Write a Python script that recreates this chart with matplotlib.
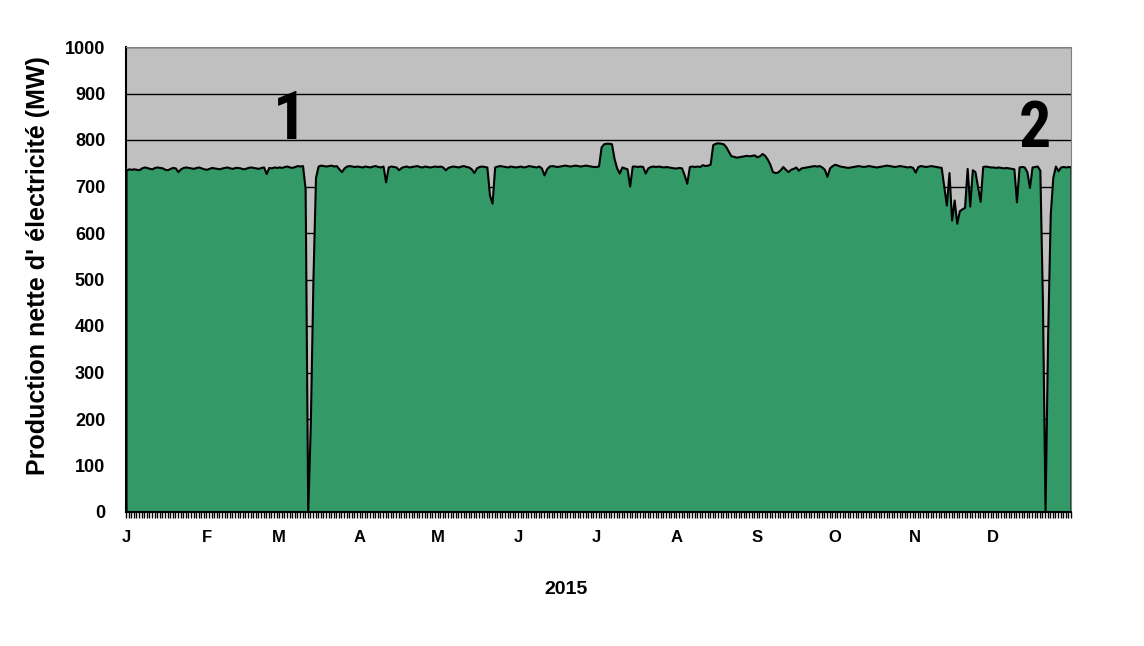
import matplotlib
matplotlib.use('Agg')
import matplotlib.pyplot as plt
from matplotlib import font_manager
import numpy as np

plt.rcParams['font.family'] = ['Liberation Sans', 'DejaVu Sans']
plt.rcParams['font.weight'] = 'bold'

# daily net production (MW), 2015, one list per month
jan = [735, 738, 737, 738, 737, 736, 740, 742, 741, 739, 738, 741, 742, 741, 740, 737,
       736, 739, 741, 740, 732, 738, 741, 742, 741, 740, 739, 741, 742, 740, 738]
feb = [737, 739, 741, 740, 739, 738, 740, 741, 742, 740, 739, 741, 741, 740, 738, 739,
       741, 742, 741, 740, 739, 741, 742, 728, 741, 740, 742, 741]
mar = [742, 741, 743, 744, 742, 741, 743, 745, 744, 745, 695, 0, 190, 500, 720, 744,
       746, 745, 744, 745, 746, 744, 745, 738, 732, 740, 744, 745, 744, 743, 744]
apr = [743, 742, 744, 743, 742, 744, 745, 743, 742, 744, 710, 742, 744, 743, 742, 736,
       741, 743, 744, 742, 743, 744, 745, 743, 742, 744, 743, 742, 743, 744]
may = [743, 744, 742, 736, 741, 743, 744, 743, 742, 744, 745, 743, 742, 738, 730, 740,
       743, 744, 743, 742, 682, 664, 742, 744, 745, 744, 743, 742, 744, 743, 742]
jun = [743, 744, 742, 743, 745, 744, 743, 742, 744, 740, 725, 738, 744, 745, 744, 743,
       744, 745, 746, 745, 744, 745, 746, 745, 744, 745, 746, 745, 744, 743]
jul = [743, 744, 785, 792, 793, 793, 792, 760, 740, 729, 742, 740, 738, 701, 744, 744,
       743, 744, 743, 729, 740, 743, 744, 743, 744, 743, 742, 743, 742, 741, 740]
aug = [740, 741, 740, 725, 707, 743, 744, 743, 744, 743, 747, 745, 746, 748, 790, 793,
       794, 793, 792, 786, 776, 766, 765, 763, 764, 765, 766, 767, 766, 767, 768]
sep = [764, 766, 771, 767, 759, 748, 732, 730, 731, 736, 743, 737, 732, 737, 739, 742,
       735, 740, 741, 742, 743, 744, 745, 744, 745, 742, 737, 722, 740, 745]
oct_ = [748, 746, 744, 743, 742, 741, 742, 743, 744, 745, 744, 743, 744, 745, 744, 743,
        742, 743, 744, 745, 746, 745, 744, 743, 744, 745, 744, 743, 742, 743, 741]
nov = [731, 743, 745, 744, 743, 744, 745, 744, 743, 742, 741, 700, 660, 730, 628, 671,
       621, 648, 652, 655, 739, 658, 736, 732, 700, 668, 743, 744, 743, 742]
dec = [742, 741, 742, 741, 740, 741, 740, 739, 738, 667, 742, 743, 742, 732, 698, 742,
       743, 744, 735, 450, 0, 380, 640, 720, 744, 734, 742, 743, 742, 743, 742]

months = ['J', 'F', 'M', 'A', 'M', 'J', 'J', 'A', 'S', 'O', 'N', 'D']
values = np.array(jan + feb + mar + apr + may + jun + jul + aug + sep + oct_ + nov + dec)
days = np.arange(len(values))
month_len = [len(m) for m in [jan, feb, mar, apr, may, jun, jul, aug, sep, oct_, nov, dec]]
month_start = np.concatenate([[0], np.cumsum(month_len)[:-1]])

# narrow font for the big outage markers, if one is installed
installed = {f.name for f in font_manager.fontManager.ttflist}
narrow = 'Liberation Sans'
for name in ['Liberation Sans Narrow', 'Arial Narrow', 'Roboto Condensed', 'Open Sans Condensed',
             'DejaVu Sans Condensed']:
    if name in installed:
        narrow = name
        break

fig = plt.figure(figsize=(11.44, 6.46), dpi=100)
ax = fig.add_axes([126 / 1144, 1 - 512 / 646, 945 / 1144, 465 / 646])
ax.set_facecolor('#C0C0C0')

ax.fill_between(days, values, 0, facecolor='#339966', edgecolor='black', linewidth=1.5, zorder=2)

ax.set_xlim(0, len(values) - 1)
ax.set_ylim(0, 1000)
ax.set_yticks(range(0, 1001, 100))
ax.yaxis.grid(True, color='black', linewidth=1)
ax.set_axisbelow(True)
ax.tick_params(axis='y', length=0, pad=15, labelsize=13)

ax.set_xticks(month_start)
ax.set_xticklabels(months)
ax.set_xticks(days, minor=True)
ax.tick_params(axis='x', which='both', length=4, width=1, direction='out', pad=9, labelsize=12)

for s in ['top', 'right']:
    ax.spines[s].set_color('#808080')
for s in ['left', 'bottom']:
    ax.spines[s].set_color('black')
    ax.spines[s].set_linewidth(1.5)

# outage markers
ax.text(63, 840, '1', fontsize=48, fontweight='bold', family=[narrow, 'DejaVu Sans'],
        ha='center', va='center')
ax.text(350, 823, '2', fontsize=46, fontweight='bold', family=[narrow, 'DejaVu Sans'],
        ha='center', va='center')

fig.text(38 / 1144, 1 - 266 / 646, "Production nette d' électricité (MW)", rotation=90,
         ha='center', va='center', fontsize=18, fontweight='bold')
fig.text(566 / 1144, 1 - 590 / 646, '2015', ha='center', va='center', fontsize=14, fontweight='bold')

fig.savefig('out.png', dpi=100)
